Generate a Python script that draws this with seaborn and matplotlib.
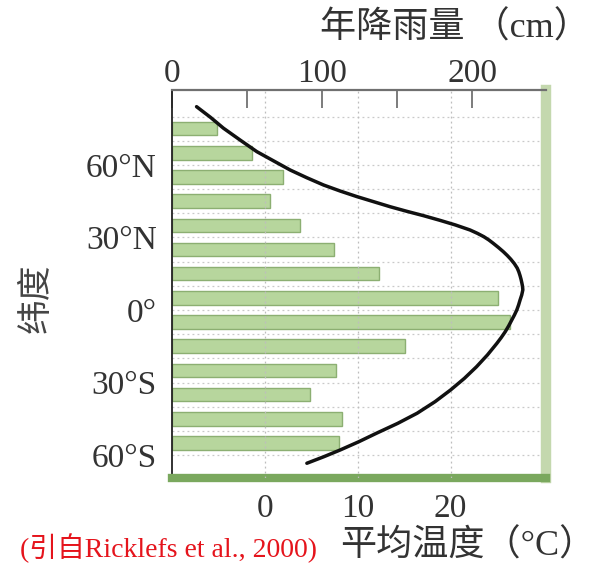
import matplotlib
matplotlib.use("Agg")
import matplotlib.pyplot as plt
import seaborn as sns

# Latitude band centres (degrees, negative = south) and annual rainfall per band (cm)
band_lat = [75, 65, 55, 45, 35, 25, 15, 5, -5, -15, -25, -35, -45, -55]
rainfall_cm = [30, 53, 74, 65, 85, 108, 138, 217, 225, 155, 109, 92, 113, 111]

# Mean annual temperature profile along latitude (°C)
curve_lat = [84.1, 79.7, 75.2, 70.3, 65.5, 61.7, 57.9, 54.7, 51.7, 49.2,
             46.9, 44.8, 42.7, 40.8, 39.0, 37.1, 35.2, 33.1, 31.7, 30.3,
             28.95, 27.6, 25.85, 24.1, 22.55, 21.0, 19.15, 17.3, 15.75, 14.2,
             12.65, 11.1, 9.7, 8.3, 6.2, 4.1, 2.05, 0.0, -2.1, -4.2,
             -6.6, -9.0, -11.4, -13.8, -18.6, -23.5, -28.3, -33.1, -37.9, -42.7,
             -46.9, -51.0, -54.5, -57.9, -60.7, -63.4]
temp_c = [-7.4, -5.9, -4.5, -2.7, -0.9, 0.9, 2.7, 4.5, 6.3, 8.1,
          9.9, 11.7, 13.5, 15.3, 17.1, 18.85, 20.5, 22.1, 22.9, 23.6,
          24.14, 24.6, 25.17, 25.7, 26.12, 26.5, 26.89, 27.2, 27.37, 27.5,
          27.61, 27.7, 27.77, 27.8, 27.68, 27.5, 27.34, 27.15, 26.89, 26.6,
          26.27, 25.9, 25.47, 25.0, 23.98, 22.8, 21.49, 20.0, 18.34, 16.4,
          14.3, 12.0, 10.1, 8.1, 6.33, 4.5]

lat_ticks = [60, 30, 0, -30, -60]
lat_labels = ["60°N", "30°N", "0°", "30°S", "60°S"]
rain_ticks = [0, 100, 200]
rain_minor = [50, 150]
temp_ticks = [0, 10, 20]
band_edges = [80, 70, 60, 50, 40, 30, 20, 10, 0, -10, -20, -30, -40, -50, -60]

sns.set_theme(style="white")
serif = ["Liberation Serif", "Noto Sans CJK SC", "DejaVu Sans"]
plt.rcParams["font.family"] = serif

W, H = 598, 564
fig = plt.figure(figsize=(W / 100, H / 100), dpi=100)
fig.patch.set_facecolor("white")

left, right, top, bottom = 172, 546, 90, 478
ax = fig.add_axes([left / W, 1 - bottom / H, (right - left) / W, (bottom - top) / H])
ax.set_facecolor("white")
ax_t = ax.twiny()

# band separators
for e in band_edges:
    ax.axhline(e, color="#c9c9c9", lw=0.9, ls=(0, (1.5, 2.5)), zorder=0)

# rainfall bars on the precipitation scale
sns.barplot(x=rainfall_cm, y=band_lat, orient="y", native_scale=True, width=0.56,
            color="#b7d69d", saturation=1, edgecolor="#8caf72", linewidth=1.0,
            ax=ax, zorder=2)

# temperature grid and curve on the temperature scale
for v in temp_ticks:
    ax_t.axvline(v, color="#bdbdbd", lw=0.9, ls=(0, (1.5, 2.5)), zorder=1)
sns.lineplot(x=temp_c, y=curve_lat, sort=False, orient="y", estimator=None,
             color="#111111", lw=2.5, ax=ax_t, zorder=3,
             solid_capstyle="round", solid_joinstyle="round")

ax.set_xlim(0, 249)
ax.set_ylim(-69.5, 91)
ax_t.set_xlim(-10.05, 30.3)
ax_t.set_ylim(-69.5, 91)
for a in (ax, ax_t):
    a.set_xlabel("")
    a.set_ylabel("")

# precipitation axis along the top
ax.xaxis.set_ticks_position("top")
ax.xaxis.set_label_position("top")
ax.set_xticks(rain_ticks)
ax.set_xticks(rain_minor, minor=True)
ax.set_xticklabels([str(t) for t in rain_ticks])
ax.tick_params(axis="x", which="both", direction="in", length=13, width=1.2,
               color="#666666", top=True, bottom=False, labeltop=True,
               labelbottom=False, pad=1, labelsize=24, labelcolor="#333333")
ax.set_yticks(lat_ticks)
ax.set_yticklabels(lat_labels)
ax.tick_params(axis="y", length=0, pad=11, labelsize=24, labelcolor="#333333")

# temperature axis along the bottom
ax_t.xaxis.set_ticks_position("bottom")
ax_t.xaxis.set_label_position("bottom")
ax_t.set_xticks(temp_ticks)
ax_t.set_xticklabels([str(t) for t in temp_ticks])
ax_t.tick_params(axis="x", length=0, pad=11, labelsize=24, labelcolor="#333333",
                 top=False, bottom=True, labeltop=False, labelbottom=True)
ax_t.tick_params(axis="y", left=False, right=False, labelleft=False, labelright=False)

for side in ax.spines.values():
    side.set_visible(True)
ax.spines["left"].set_color("#222222")
ax.spines["left"].set_linewidth(1.3)
ax.spines["top"].set_color("#707070")
ax.spines["top"].set_linewidth(1.6)
ax.spines["right"].set_color("#c4d8ae")
ax.spines["right"].set_linewidth(7.5)
ax.spines["bottom"].set_color("#7aa85e")
ax.spines["bottom"].set_linewidth(6)
for side in ax_t.spines.values():
    side.set_visible(False)

# axis titles and source note
fig.text(320 / W, 1 - 28 / H, "年降雨量 （cm）", family=serif, fontsize=26,
         color="#333333", ha="left", va="center")
fig.text(340 / W, 1 - 546 / H, "平均温度（°C）", family=serif, fontsize=26,
         color="#333333", ha="left", va="center")
fig.text(37 / W, 1 - 298 / H, "纬度", family=serif, fontsize=25, color="#444444",
         rotation=90, ha="center", va="center")
fig.text(20 / W, 1 - 548 / H, "(引自Ricklefs et al., 2000)", family=serif,
         fontsize=20, color="#e5141c", ha="left", va="center")

fig.savefig("out.png", dpi=100, facecolor="white")
